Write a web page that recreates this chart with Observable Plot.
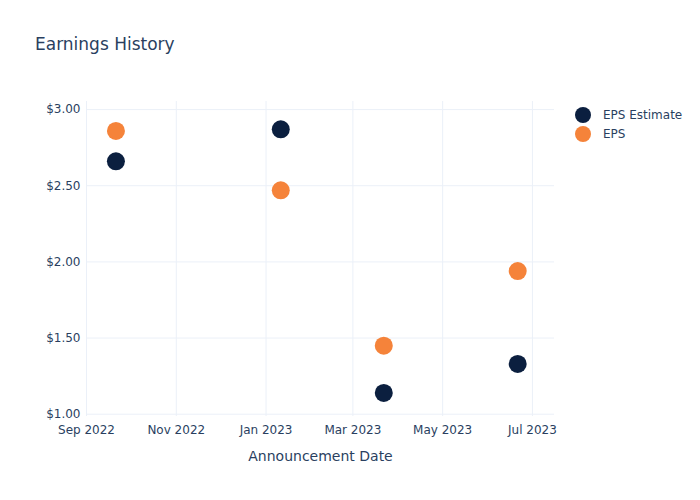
<!DOCTYPE html>
<html><head><meta charset="utf-8">
<script src="https://cdn.jsdelivr.net/npm/d3@7"></script>
<script src="https://cdn.jsdelivr.net/npm/@observablehq/plot@0.6"></script>
<style>
body{margin:0;background:#fff;font-family:"DejaVu Sans",sans-serif;}
#wrap{position:relative;width:700px;height:500px;}
#title{position:absolute;left:35px;top:34px;font-size:17px;color:#2a3f5f;white-space:nowrap;}
#legend{position:absolute;left:575px;top:105px;font-size:12px;color:#2a3f5f;}
.item{display:flex;align-items:center;height:19px;}
.sw{width:16px;height:16px;border-radius:50%;margin-right:12px;}
</style></head><body>
<div id="wrap"><div id="title">Earnings History</div><div id="legend"></div></div>
<script>
const dates = ["2022-09-21", "2023-01-11", "2023-03-22", "2023-06-21"];
const epsEstimate = [2.66, 2.87, 1.14, 1.33];
const eps = [2.86, 2.47, 1.45, 1.94];
const seriesNames = ["EPS Estimate", "EPS"];
const seriesColors = ["#0b1f3f", "#f5833a"];
const yTicks = [1, 1.5, 2, 2.5, 3];
const xTicks = ["2022-09-01", "2022-11-01", "2023-01-01", "2023-03-01", "2023-05-01", "2023-07-01"];
const xLabel = "Announcement Date";

const rows = [];
dates.forEach((d, i) => rows.push({date: new Date(d), value: epsEstimate[i], series: seriesNames[0]}));
dates.forEach((d, i) => rows.push({date: new Date(d), value: eps[i], series: seriesNames[1]}));

const chart = Plot.plot({
  width: 700, height: 500,
  marginLeft: 86, marginRight: 146, marginTop: 101, marginBottom: 84,
  style: {fontFamily: "DejaVu Sans, sans-serif", fontSize: "12px", color: "#2a3f5f", background: "#fff"},
  x: {type: "utc", domain: [new Date("2022-09-01"), new Date("2023-07-16")]},
  y: {domain: [0.985, 3.053]},
  color: {domain: seriesNames, range: seriesColors},
  marks: [
    Plot.gridX(xTicks.map(d => new Date(d)), {stroke: "#ebf0f8", strokeOpacity: 1, strokeWidth: 1}),
    Plot.gridY(yTicks, {stroke: "#ebf0f8", strokeOpacity: 1, strokeWidth: 1}),
    Plot.axisX({ticks: xTicks.map(d => new Date(d)), tickFormat: d3.utcFormat("%b %Y"), tickSize: 0, tickPadding: 9, label: null, fill: "#2a3f5f"}),
    Plot.axisY({ticks: yTicks, tickFormat: d => "$" + d.toFixed(2), tickSize: 0, tickPadding: 6, label: null, fill: "#2a3f5f"}),
    Plot.text([xLabel], {text: d => d, frameAnchor: "bottom", dy: 44, fontSize: 14, fill: "#2a3f5f"}),
    Plot.dot(rows, {x: "date", y: "value", fill: "series", r: 9})
  ]
});
document.getElementById("wrap").appendChild(chart);
const leg = document.getElementById("legend");
seriesNames.forEach((n, i) => {
  const it = document.createElement("div"); it.className = "item";
  const sw = document.createElement("div"); sw.className = "sw"; sw.style.background = seriesColors[i];
  const t = document.createElement("span"); t.textContent = n;
  it.appendChild(sw); it.appendChild(t); leg.appendChild(it);
});
</script>
</body></html>
